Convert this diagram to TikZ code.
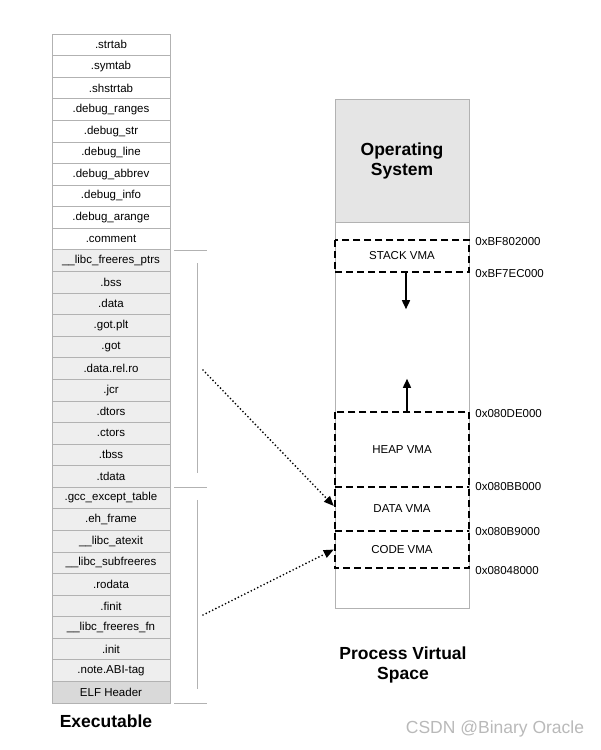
\documentclass[tikz,border=0pt]{standalone}
\usepackage{fontspec}
\setmainfont{Liberation Sans}
\usetikzlibrary{arrows.meta,calc}

\begin{document}
\begin{tikzpicture}[x=1pt, y=-1pt,
	sec/.style = {draw=gray!60, line width=0.7pt, minimum width=118pt, minimum height=21.58pt, inner sep=0pt, font=\fontsize{11.5}{13}\selectfont},
	brk/.style = {draw=gray!60, line width=0.7pt},
	vma/.style = {minimum width=134pt, inner sep=0pt, font=\fontsize{11.5}{13}\selectfont},
	vmaline/.style = {draw, dash pattern=on 7pt off 4pt, line width=1.9pt},
	addr/.style = {anchor=west, inner sep=0pt, font=\fontsize{11.5}{13}\selectfont},
	title/.style = {font=\fontsize{17.5}{20}\selectfont\bfseries, align=center},
	vmagrow/.style = {line width=1.6pt, -{Triangle[length=9pt, width=8pt]}},
	map/.style = {line width=1.9pt, line cap=round, dash pattern=on 0pt off 3.6pt, -{Triangle[length=10pt, width=8pt]}}]
	\useasboundingbox (0,0) rectangle (601,750);
	\foreach \lbl [count=\i] in {.strtab, .symtab, .shstrtab, .debug\_ranges, .debug\_str, .debug\_line, .debug\_abbrev, .debug\_info, .debug\_arange, .comment}
		\node[sec, fill=white] (sec\i) at (111, {34+(\i-0.5)*21.58}) {\lbl};
	\foreach \lbl [count=\i from 11] in {\_\_libc\_freeres\_ptrs, .bss, .data, .got.plt, .got, .data.rel.ro, .jcr, .dtors, .ctors, .tbss, .tdata, .gcc\_except\_table, .eh\_frame, \_\_libc\_atexit, \_\_libc\_subfreeres, .rodata, .finit, \_\_libc\_freeres\_fn, .init, .note.ABI-tag}
		\node[sec, fill=gray!13] (sec\i) at (111, {34+(\i-0.5)*21.58}) {\lbl};
	\node[sec, fill=gray!30] (sec31) at (111, {34+30.5*21.58}) {ELF Header};
	\foreach \n in {10, 21, 31} \draw[brk] ($(sec\n.south east) + (4,0)$) -- ++(33,0);
	\draw[brk] ($(sec11.north east) + (27,14)$) -- ($(sec21.south east) + (27,-15)$);
	\draw[brk] ($(sec22.north east) + (27,13)$) -- ($(sec31.south east) + (27,-14)$);
	\node[title] (exe) at (106,721) {Executable};

	\node[draw=gray!60, line width=0.7pt, minimum width=134pt, minimum height=509pt] (vspace) at (402,353.5) {};
	\node[draw=gray!60, line width=0.7pt, fill=gray!20, minimum width=134pt, minimum height=123pt, title] (os) at (402,160.5) {Operating\\System};
	\node[vma, minimum height=32pt] (stack) at (402,256) {STACK VMA};
	\node[vma, minimum height=75pt] (heap) at (402,449.5) {HEAP VMA};
	\node[vma, minimum height=44pt] (data) at (402,509) {DATA VMA};
	\node[vma, minimum height=37pt] (code) at (402,549.5) {CODE VMA};
	\draw[vmaline] (stack.north west) rectangle (stack.south east);
	\draw[vmaline] (heap.north west) rectangle (code.south east);
	\draw[vmaline] (data.north west) -- (data.north east);
	\draw[vmaline] (code.north west) -- (code.north east);
	\node[addr] (a1) at ($(stack.north east) + (6,2)$) {0xBF802000};
	\node[addr] (a2) at ($(stack.south east) + (6,1)$) {0xBF7EC000};
	\node[addr] (a3) at ($(heap.north east) + (6,2)$) {0x080DE000};
	\node[addr] (a4) at ($(data.north east) + (6,0)$) {0x080BB000};
	\node[addr] (a5) at ($(code.north east) + (6,1)$) {0x080B9000};
	\node[addr] (a6) at ($(code.south east) + (6,2)$) {0x08048000};
	\draw[vmagrow] ($(stack.south) + (4,0)$) -- ++(0,37);
	\draw[vmagrow] ($(heap.north) + (5,0)$) -- ++(0,-33);
	\node[title] (pvs) at (403,665) {Process Virtual\\Space};

	\coordinate (datasrc) at (203,370);
	\coordinate (codesrc) at (203,615);
	\draw[map] (datasrc) -- ($(data.west) + (-1,-3)$);
	\draw[map] (codesrc) -- ($(code.west) + (-1,0)$);

	\node[text=gray!55, font=\fontsize{17.5}{20}\selectfont] (mark) at (495,729) {CSDN @Binary Oracle};
\end{tikzpicture}
\end{document}
